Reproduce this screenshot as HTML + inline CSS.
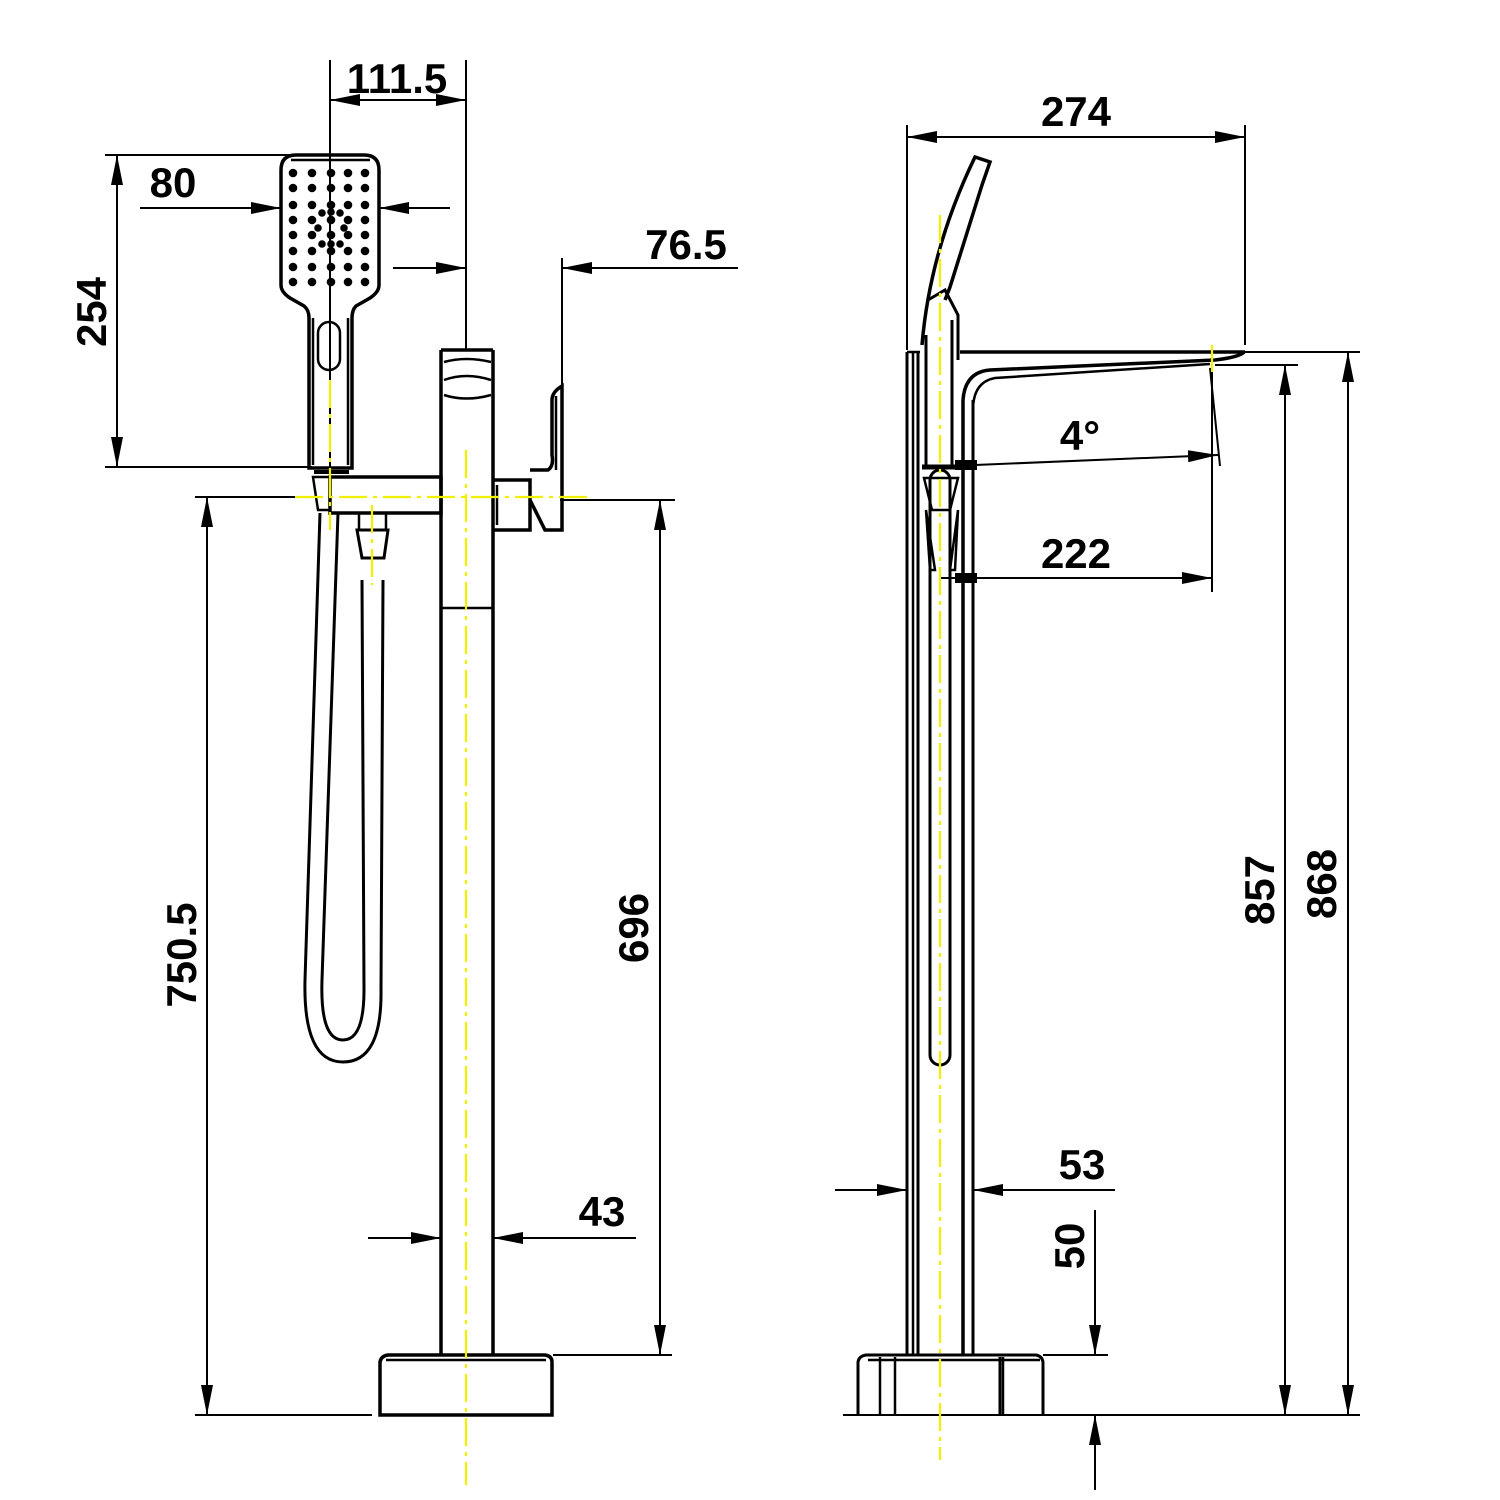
<!DOCTYPE html>
<html><head><meta charset="utf-8"><style>
html,body{margin:0;padding:0;background:#fff;}
svg{display:block;}
text{font-family:"Liberation Sans",Arial,sans-serif;font-weight:bold;font-size:42px;fill:#000;}
</style></head><body>
<svg width="1500" height="1500" viewBox="0 0 1500 1500" xmlns="http://www.w3.org/2000/svg">
<defs>
<marker id="a" viewBox="0 0 30 12" refX="30" refY="6" markerWidth="30" markerHeight="12" markerUnits="userSpaceOnUse" orient="auto-start-reverse"><path d="M0,0 L30,6 L0,12 Z" fill="#000"/></marker>
</defs>
<g stroke="#000" stroke-width="2.5" fill="none">
<!-- ===== LEFT VIEW ===== -->
<line x1="441" y1="350" x2="441" y2="1355" stroke-width="3.5"/>
<line x1="493" y1="350" x2="493" y2="1355" stroke-width="3.5"/>
<line x1="441" y1="350" x2="493" y2="350" stroke-width="3.5"/>
<path d="M444,362 Q466,356 491,362"/>
<path d="M444,380 Q466,372 491,380"/>
<path d="M444,395 Q466,402 491,395"/>
<line x1="441" y1="608" x2="493" y2="608"/>
<path d="M380,1415 L380,1362 Q381,1356 388,1355 L545,1355 Q552,1356 552,1362 L552,1415 Z" stroke-width="3.5"/>
<line x1="386" y1="1360" x2="546" y2="1360"/>
<rect x="330" y="477" width="111" height="36" stroke-width="3.5"/>
<path d="M313,477 L330,477 L330,510 L318,510 Z"/>
<line x1="314" y1="472" x2="349" y2="472" stroke-width="4"/>
<path d="M281,170 Q281,155 296,155 L364,155 Q379,155 379,170 L379,285 Q379,292 370,298 L356,306 Q352,310 352,318 L352,468 L309,468 L309,318 Q309,310 304,306 L290,298 Q281,292 281,285 Z" stroke-width="3.5"/>
<line x1="291" y1="160" x2="370" y2="160"/>
<rect x="318" y="322" width="22" height="48" rx="11"/>
<line x1="313" y1="318" x2="313" y2="465"/>
<line x1="348" y1="318" x2="348" y2="465"/>
<path d="M320,513 L305,980 Q303,1062 343,1062 Q382,1062 381,990 L383,580" stroke-width="3"/>
<path d="M338,513 L322,980 Q320,1040 343,1040 Q364,1040 364,990 L362,580" stroke-width="3"/>
<path d="M357,530 L388,530 L384,558 L362,558 Z" stroke-width="3"/>
<line x1="359" y1="513" x2="359" y2="530"/><line x1="386" y1="513" x2="386" y2="530"/>
<path d="M493,480 L530,480 L530,530 L493,530" stroke-width="3.5"/>
<line x1="497" y1="485" x2="497" y2="525"/>
<path d="M530,470 L548,470 Q554,466 552,455 L552,400 Q552,392 562,386 L562,530 L545,530 L530,500" stroke-width="3.5"/>
<line x1="556" y1="396" x2="556" y2="470"/>
<g stroke-width="2">
<line x1="330" y1="60" x2="330" y2="470"/>
<line x1="466" y1="60" x2="466" y2="350"/>
<line x1="330" y1="100" x2="466" y2="100" marker-start="url(#a)" marker-end="url(#a)"/>
<line x1="140" y1="208" x2="281" y2="208" marker-end="url(#a)"/>
<line x1="450" y1="208" x2="379" y2="208" marker-end="url(#a)"/>
<line x1="105" y1="155" x2="290" y2="155"/>
<line x1="105" y1="467" x2="312" y2="467"/>
<line x1="117" y1="155" x2="117" y2="467" marker-start="url(#a)" marker-end="url(#a)"/>
<line x1="393" y1="268" x2="466" y2="268" marker-end="url(#a)"/>
<line x1="738" y1="268" x2="562" y2="268" marker-end="url(#a)"/>
<line x1="562" y1="258" x2="562" y2="390"/>
<line x1="195" y1="497" x2="315" y2="497"/>
<line x1="195" y1="1415" x2="372" y2="1415"/>
<line x1="207" y1="497" x2="207" y2="1415" marker-start="url(#a)" marker-end="url(#a)"/>
<line x1="560" y1="500" x2="675" y2="500"/>
<line x1="553" y1="1355" x2="672" y2="1355"/>
<line x1="660" y1="500" x2="660" y2="1355" marker-start="url(#a)" marker-end="url(#a)"/>
<line x1="368" y1="1238" x2="441" y2="1238" marker-end="url(#a)"/>
<line x1="636" y1="1238" x2="493" y2="1238" marker-end="url(#a)"/>
</g>
<!-- ===== RIGHT VIEW ===== -->
<line x1="907" y1="352" x2="907" y2="1355" stroke-width="3"/>
<line x1="913" y1="352" x2="913" y2="1355"/>
<line x1="918" y1="352" x2="918" y2="1355" stroke-width="3"/>
<line x1="963" y1="400" x2="963" y2="1355" stroke-width="3.5"/>
<line x1="973" y1="400" x2="973" y2="1355" stroke-width="3"/>
<line x1="907" y1="352" x2="920" y2="352"/>
<line x1="960" y1="352" x2="1245" y2="352" stroke-width="3.5"/>
<path d="M963,400 Q965,372 990,370 L1215,360 Q1240,357 1244,352" stroke-width="3.5"/>
<path d="M973,410 Q973,382 995,378 L1210,364"/>
<path d="M922,345 Q930,250 975,157 L990,162 L982,185 L950,287 L945,300" stroke-width="3.5"/>
<path d="M928,300 L945,290 L958,315 L958,360" stroke-width="3"/>
<line x1="926" y1="335" x2="926" y2="465" stroke-width="3"/>
<line x1="952" y1="320" x2="952" y2="465" stroke-width="3"/>
<line x1="922" y1="467" x2="975" y2="467" stroke-width="5"/>
<path d="M924,478 L958,478 L950,510 L932,510 Z"/>
<path d="M926,510 L930,570 L935,570 Z"/>
<path d="M958,510 L955,570 L950,570 Z"/>
<rect x="930" y="470" width="20" height="595" rx="10" stroke-width="3"/>
<path d="M858,1415 L858,1362 Q859,1356 866,1355 L1036,1355 Q1042,1356 1043,1362 L1043,1415" stroke-width="3"/>
<line x1="880" y1="1357" x2="880" y2="1415"/>
<line x1="895" y1="1357" x2="895" y2="1415"/>
<line x1="1000" y1="1357" x2="1000" y2="1415" stroke-width="3"/>
<line x1="1003" y1="1357" x2="1003" y2="1415"/>
<line x1="868" y1="1360" x2="1040" y2="1360"/>
<g stroke-width="2">
<line x1="907" y1="125" x2="907" y2="350"/>
<line x1="1245" y1="125" x2="1245" y2="345"/>
<line x1="907" y1="137" x2="1245" y2="137" marker-start="url(#a)" marker-end="url(#a)"/>
<line x1="975" y1="465" x2="1218" y2="455" marker-end="url(#a)"/>
<line x1="1210" y1="368" x2="1220" y2="466"/>
<line x1="1212" y1="365" x2="1212" y2="592"/>
<line x1="940" y1="578" x2="1212" y2="578" marker-end="url(#a)"/>
<line x1="1215" y1="365" x2="1298" y2="365"/>
<line x1="1285" y1="365" x2="1285" y2="1415" marker-start="url(#a)" marker-end="url(#a)"/>
<line x1="1245" y1="352" x2="1360" y2="352"/>
<line x1="1348" y1="352" x2="1348" y2="1415" marker-start="url(#a)" marker-end="url(#a)"/>
<line x1="843" y1="1415" x2="1360" y2="1415"/>
<line x1="1043" y1="1355" x2="1108" y2="1355"/>
<line x1="835" y1="1190" x2="907" y2="1190" marker-end="url(#a)"/>
<line x1="1115" y1="1190" x2="973" y2="1190" marker-end="url(#a)"/>
<line x1="1095" y1="1210" x2="1095" y2="1355" marker-end="url(#a)"/>
<line x1="1095" y1="1490" x2="1095" y2="1415" marker-end="url(#a)"/>
</g>
</g>
<rect x="955" y="460" width="22" height="10" fill="#000"/>
<rect x="955" y="573" width="22" height="10" fill="#000"/>
<g fill="#000">
<g id="row"><circle cx="293" cy="173" r="4.3"/><circle cx="312" cy="173" r="4.3"/><circle cx="331" cy="173" r="4.3"/><circle cx="348" cy="173" r="4.3"/><circle cx="365" cy="173" r="4.3"/></g>
<use href="#row" y="15"/><use href="#row" y="32"/><use href="#row" y="47"/><use href="#row" y="62"/><use href="#row" y="78"/><use href="#row" y="94"/><use href="#row" y="109"/>
<circle cx="322" cy="213" r="3.8"/><circle cx="340" cy="213" r="3.8"/><circle cx="322" cy="244" r="3.8"/><circle cx="340" cy="244" r="3.8"/><circle cx="318" cy="228" r="3.8"/><circle cx="344" cy="228" r="3.8"/><circle cx="331" cy="212" r="3.8"/><circle cx="331" cy="244" r="3.8"/>
</g>
<g stroke="#f0f000" stroke-width="2.2" stroke-dasharray="28,6,4,6" fill="none">
<line x1="466" y1="450" x2="466" y2="1485"/>
<line x1="295" y1="497" x2="590" y2="497"/>
<line x1="330" y1="380" x2="330" y2="530"/>
<line x1="372" y1="505" x2="372" y2="585"/>
<line x1="940" y1="215" x2="940" y2="1460"/>
<line x1="1212" y1="345" x2="1212" y2="372"/>
</g>
<text x="397" y="93" text-anchor="middle">111.5</text>
<text x="173" y="197" text-anchor="middle">80</text>
<text x="686" y="259" text-anchor="middle">76.5</text>
<text transform="translate(106,312) rotate(-90)" text-anchor="middle">254</text>
<text transform="translate(196,955) rotate(-90)" text-anchor="middle">750.5</text>
<text transform="translate(648,928) rotate(-90)" text-anchor="middle">696</text>
<text x="602" y="1226" text-anchor="middle">43</text>
<text x="1076" y="126" text-anchor="middle">274</text>
<text x="1080" y="450" text-anchor="middle">4°</text>
<text x="1076" y="568" text-anchor="middle">222</text>
<text transform="translate(1274,890) rotate(-90)" text-anchor="middle">857</text>
<text transform="translate(1336,884) rotate(-90)" text-anchor="middle">868</text>
<text x="1082" y="1179" text-anchor="middle">53</text>
<text transform="translate(1084,1246) rotate(-90)" text-anchor="middle">50</text>
</svg>
</body></html>
